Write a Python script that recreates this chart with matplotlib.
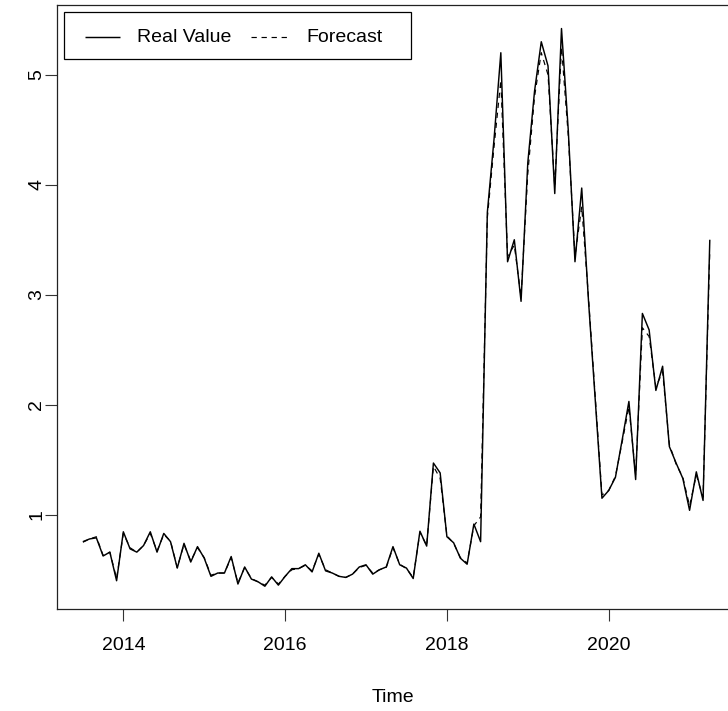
import matplotlib
matplotlib.use("Agg")
import matplotlib.pyplot as plt
from matplotlib.lines import Line2D
from matplotlib.patches import Rectangle
import numpy as np

plt.rcParams['font.family'] = ['Liberation Sans', 'DejaVu Sans']

# monthly series, July 2013 .. April 2021
start_year = 2013
start_month = 7

real_value = [
    0.755, 0.78, 0.79, 0.625, 0.66, 0.40, 0.845, 0.69, 0.66, 0.72,
    0.845, 0.66, 0.83, 0.755, 0.515, 0.74, 0.57, 0.71, 0.605, 0.44,
    0.47, 0.47, 0.62, 0.37, 0.525, 0.415, 0.39, 0.35, 0.435, 0.36,
    0.44, 0.51, 0.51, 0.545, 0.48, 0.65, 0.49, 0.47, 0.44, 0.43,
    0.46, 0.525, 0.545, 0.46, 0.50, 0.525, 0.71, 0.545, 0.515, 0.42,
    0.85, 0.715, 1.47, 1.38, 0.80, 0.745, 0.605, 0.55, 0.915, 0.755,
    3.75, 4.42, 5.20, 3.30, 3.50, 2.94, 4.20, 4.85, 5.30, 5.08,
    3.92, 5.42, 4.50, 3.30, 3.97, 2.95, 2.05, 1.15, 1.22, 1.34,
    1.68, 2.03, 1.32, 2.83, 2.68, 2.13, 2.35, 1.62, 1.47, 1.33,
    1.04, 1.39, 1.13, 3.50,
]

forecast = [
    0.75, 0.78, 0.80, 0.63, 0.66, 0.42, 0.83, 0.70, 0.66, 0.72,
    0.83, 0.67, 0.82, 0.76, 0.52, 0.73, 0.58, 0.70, 0.61, 0.45,
    0.47, 0.47, 0.61, 0.38, 0.52, 0.42, 0.39, 0.36, 0.43, 0.37,
    0.44, 0.50, 0.51, 0.54, 0.49, 0.64, 0.50, 0.47, 0.44, 0.43,
    0.46, 0.52, 0.54, 0.47, 0.50, 0.52, 0.70, 0.55, 0.51, 0.43,
    0.84, 0.72, 1.44, 1.33, 0.81, 0.74, 0.61, 0.56, 0.90, 0.98,
    3.70, 4.35, 4.95, 3.35, 3.45, 2.98, 4.10, 4.80, 5.20, 5.00,
    3.98, 5.25, 4.45, 3.35, 3.80, 2.98, 2.08, 1.18, 1.22, 1.35,
    1.66, 1.98, 1.36, 2.70, 2.62, 2.16, 2.30, 1.64, 1.46, 1.34,
    1.08, 1.36, 1.16, 3.40,
]

x_ticks = [2014, 2016, 2018, 2020]
y_ticks = [1, 2, 3, 4, 5]

W, H = 728, 711
t = start_year + (start_month - 1) / 12 + np.arange(len(real_value)) / 12

fig = plt.figure(figsize=(W / 100, H / 100), dpi=100)
ax = fig.add_axes([57 / W, 1 - 609 / H, 1 - 57 / W, 604 / H])

solid = (0, ())
dashed = (0, (4.5, 4))
ax.plot(t, real_value, color='black', lw=1.05, linestyle=solid)
ax.plot(t, forecast, color='black', lw=0.85, linestyle=dashed)

ax.set_xlim(2013.180, 2021.475)
ax.set_ylim(0.143, 5.634)
ax.set_xticks(x_ticks)
ax.set_yticks(y_ticks)
ax.tick_params(length=8.4, width=0.8, color='#333333', labelsize=14)
ax.tick_params(axis='x', pad=12)
ax.tick_params(axis='y', pad=0)
for lab in ax.get_yticklabels():
    lab.set_rotation(90)
    lab.set_va('center')

ax.spines['right'].set_visible(False)
for s in ['left', 'bottom', 'top']:
    ax.spines[s].set_linewidth(0.9)
    ax.spines[s].set_color('#222222')

ax.set_xlabel('Time', fontsize=14, labelpad=25)

# legend box, R style (horizontal)
def fx(px):
    return px / W

def fy(py):
    return 1 - py / H

fig.patches.append(Rectangle((fx(64), fy(59)), fx(411) - fx(64), fy(12) - fy(59),
                             transform=fig.transFigure, fill=True, facecolor='white',
                             edgecolor='black', lw=0.9, zorder=5))
legend_items = [('Real Value', solid, 1.05, 85, 120, 137),
                ('Forecast', dashed, 0.85, 251, 288, 306)]
for text, ls, lw, x0, x1, xt in legend_items:
    fig.lines.append(Line2D([fx(x0), fx(x1)], [fy(37), fy(37)], transform=fig.transFigure,
                            color='black', lw=lw, linestyle=ls, zorder=6))
    fig.text(fx(xt), fy(38), text, fontsize=14, va='center', ha='left', zorder=6)

fig.savefig('out.png', dpi=100)
